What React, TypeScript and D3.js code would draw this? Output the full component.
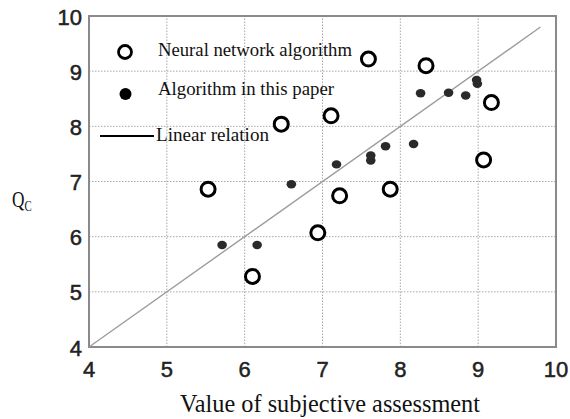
import React from "react";
import * as d3 from "d3";

const width = 570;
const height = 419;
const margin = { left: 89, right: 14, top: 16, bottom: 72 };

// Neural network algorithm (hollow circles)
const neuralX = [5.53, 6.1, 6.47, 7.11, 7.59, 8.33, 9.17, 9.07, 7.22, 7.87, 6.94];
const neuralY = [6.86, 5.28, 8.04, 8.19, 9.22, 9.1, 8.43, 7.39, 6.74, 6.86, 6.07];

// Algorithm in this paper (filled dots)
const paperX = [5.71, 6.16, 6.6, 7.18, 7.62, 7.62, 7.81, 8.17, 8.26, 8.62, 8.84, 8.98, 8.99];
const paperY = [5.85, 5.85, 6.95, 7.31, 7.38, 7.47, 7.64, 7.68, 8.6, 8.61, 8.56, 8.84, 8.77];

// Linear relation endpoints
const lineX = [4, 9.8];
const lineY = [4, 9.8];

const xTicks = [4, 5, 6, 7, 8, 9, 10];
const yTicks = [4, 5, 6, 7, 8, 9, 10];

const App = () => {
  const x = d3.scaleLinear().domain([4, 10]).range([margin.left, width - margin.right]);
  const y = d3.scaleLinear().domain([4, 10]).range([height - margin.bottom, margin.top]);
  const linePath = d3
    .line<number>()
    .x((d) => x(d))
    .y((_, i) => y(lineY[i]))(lineX);

  const [x0, x1] = x.range();
  const [y0, y1] = y.range();
  const serif = "'Liberation Serif', 'Times New Roman', serif";
  const sans = "'Liberation Sans', Arial, sans-serif";

  return (
    <svg
      width={width}
      height={height}
      style={{ position: "absolute", left: 0, top: 0, background: "#fff" }}
    >
      <rect x={0} y={0} width={width} height={height} fill="#fff" />
      {/* grid */}
      {xTicks.slice(1, -1).map((t) => (
        <line key={"gx" + t} x1={x(t)} x2={x(t)} y1={y0} y2={y1} stroke="#a8a8a8" strokeWidth={1} strokeDasharray="1.5,1.5" />
      ))}
      {yTicks.slice(1, -1).map((t) => (
        <line key={"gy" + t} x1={x0} x2={x1} y1={y(t)} y2={y(t)} stroke="#a8a8a8" strokeWidth={1} strokeDasharray="1.5,1.5" />
      ))}
      {/* frame */}
      <rect x={x0} y={y1} width={x1 - x0} height={y0 - y1} fill="none" stroke="#8a8a8a" strokeWidth={2} />

      {/* linear relation */}
      <path d={linePath || ""} fill="none" stroke="#9c9c9c" strokeWidth={1.4} />

      {/* paper dots */}
      {paperX.map((v, i) => (
        <ellipse key={"p" + i} cx={x(v)} cy={y(paperY[i])} rx={4.8} ry={4.2} fill="#2a2a2a" />
      ))}
      {/* neural circles */}
      {neuralX.map((v, i) => (
        <circle key={"n" + i} cx={x(v)} cy={y(neuralY[i])} r={7} fill="#fff" stroke="#000" strokeWidth={3} />
      ))}

      {/* ticks */}
      {xTicks.map((t) => (
        <text key={"tx" + t} x={x(t)} y={y0 + 30} textAnchor="middle" fontFamily={sans} fontSize={22} fill="#222" stroke="#222" strokeWidth={0.5}>
          {t}
        </text>
      ))}
      {yTicks.map((t) => (
        <text key={"ty" + t} x={x0 - 7} y={y(t) + 8.5} textAnchor="end" fontFamily={sans} fontSize={22} fill="#222" stroke="#222" strokeWidth={0.5}>
          {t}
        </text>
      ))}

      {/* legend */}
      <circle cx={125} cy={52} r={6.5} fill="#fff" stroke="#000" strokeWidth={2.8} />
      <text x={158} y={56} fontFamily={serif} fontSize={18} fill="#111" textLength={194} lengthAdjust="spacingAndGlyphs">
        Neural network algorithm
      </text>
      <circle cx={125.5} cy={94} r={6} fill="#000" />
      <text x={158} y={95} fontFamily={serif} fontSize={18} fill="#111" textLength={176} lengthAdjust="spacingAndGlyphs">
        Algorithm in this paper
      </text>
      <line x1={100} x2={154} y1={136} y2={136} stroke="#000" strokeWidth={2} />
      <text x={156} y={141} fontFamily={serif} fontSize={18} fill="#111" textLength={113} lengthAdjust="spacingAndGlyphs">
        Linear relation
      </text>

      {/* axis titles */}
      <g transform="translate(12,207) scale(0.72,1)">
        <text x={0} y={0} fontFamily={serif} fontSize={24} fill="#111">
          Q
          <tspan fontSize={15} dy={4}>C</tspan>
        </text>
      </g>
      <text x={180} y={412} fontFamily={serif} fontSize={25} fill="#111" textLength={300} lengthAdjust="spacingAndGlyphs">
        Value of subjective assessment
      </text>
    </svg>
  );
};

export default App;
